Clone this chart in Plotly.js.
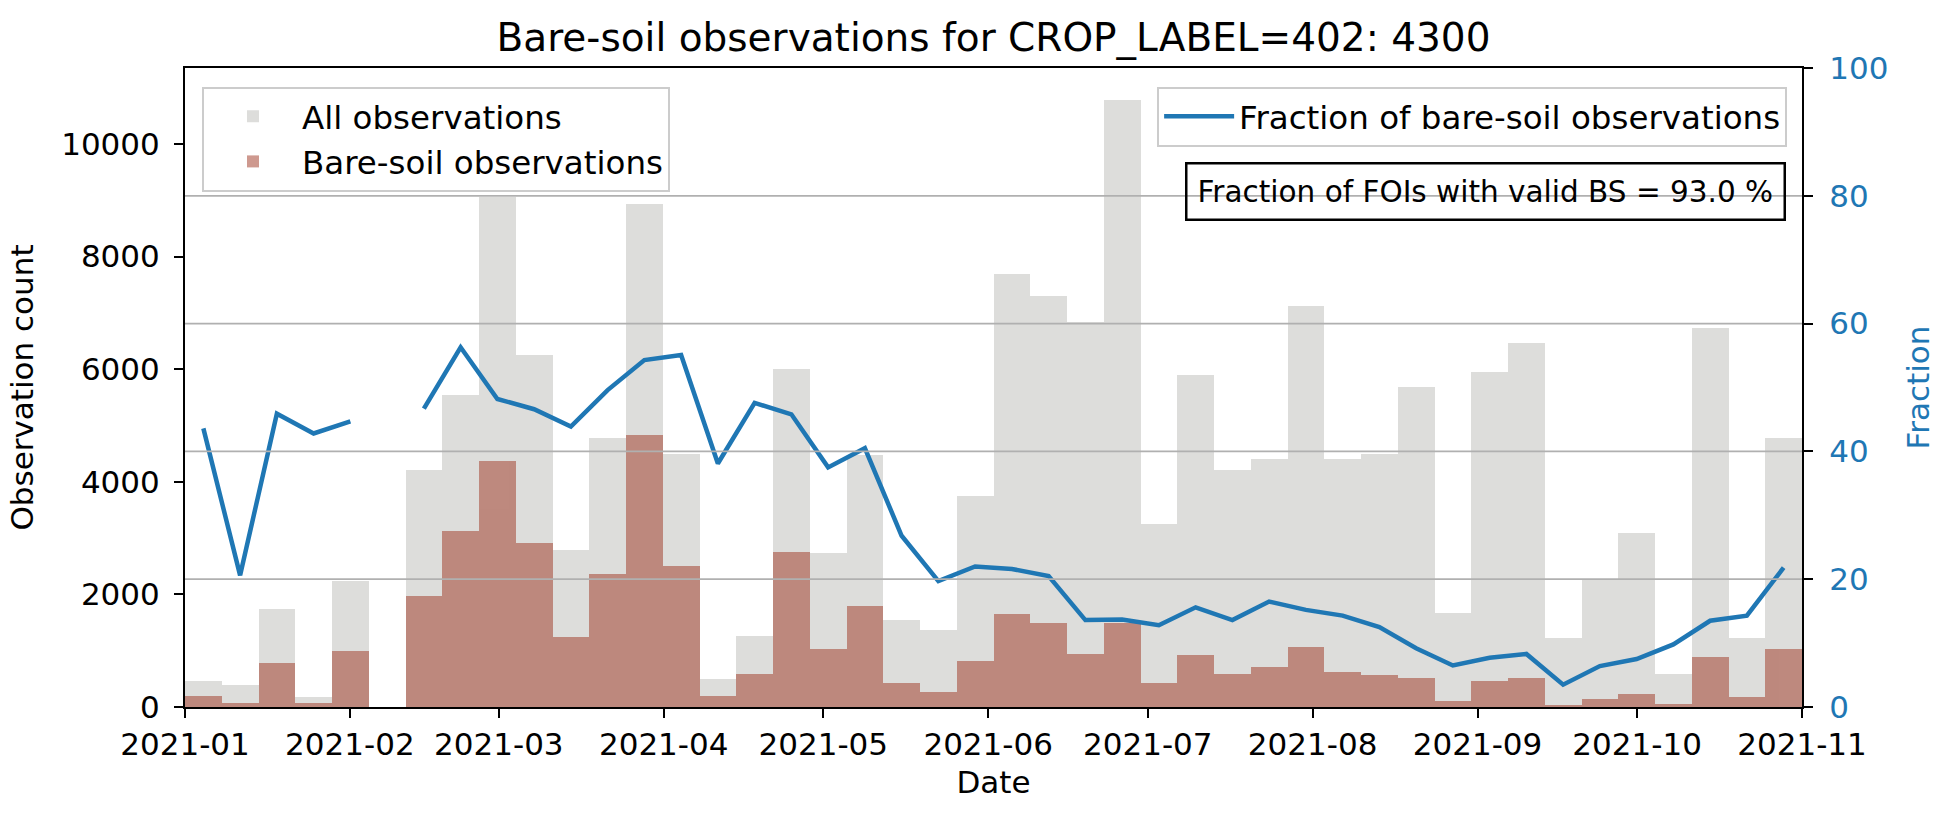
<!DOCTYPE html>
<html>
<head>
<meta charset="utf-8">
<script src="https://cdn.plot.ly/plotly-3.0.1.min.js"></script>
<style>html,body{margin:0;padding:0;background:#fff;}#chart{width:1944px;height:816px;}</style>
</head>
<body>
<div id="chart"></div>
<script>
// Histogram bin range (44 equal bins)
const binStart = '2021-01-01';
const binEnd = '2021-11-01';

// All observations per bin
const allObs = [456, 391, 1737, 170, 2241, 0, 4211, 5550, 9060, 6249,
  2790, 4783, 8934, 4497, 496, 1263, 6001, 2730, 4480, 1549,
  1361, 3745, 7693, 7302, 6843, 10776, 3256, 5889, 4211, 4399,
  7129, 4399, 4497, 5685, 1677, 5948, 6467, 1226, 2279, 3091,
  587, 6738, 1226, 4783];

// Bare-soil observations per bin
const bareSoil = [200, 80, 790, 73, 1000, 0, 1978, 3128, 4362, 2918,
  1241, 2361, 4835, 2497, 196, 587, 2745, 1038, 1790, 421,
  271, 812, 1654, 1489, 940, 1489, 421, 925, 587, 714,
  1068, 624, 564, 511, 113, 459, 511, 43, 146, 233,
  60, 887, 173, 1038];

// Fraction of bare-soil observations (%)
const fraction = [43.6, 20.6, 45.9, 42.8, 44.7, null, 46.7, 56.3, 48.2, 46.6,
  43.9, 49.6, 54.3, 55.1, 38.1, 47.6, 45.8, 37.5, 40.5, 26.8,
  19.7, 22.0, 21.6, 20.5, 13.6, 13.7, 12.8, 15.6, 13.6, 16.5,
  15.2, 14.3, 12.5, 9.2, 6.5, 7.7, 8.3, 3.5, 6.4, 7.5,
  9.8, 13.5, 14.3, 21.8];

const leftTicks = [0, 2000, 4000, 6000, 8000, 10000];
const rightTicks = [0, 20, 40, 60, 80, 100];
const gridTicks = [20, 40, 60, 80];
const monthTicks = ['2021-01-01','2021-02-01','2021-03-01','2021-04-01','2021-05-01','2021-06-01',
  '2021-07-01','2021-08-01','2021-09-01','2021-10-01','2021-11-01'];
const validText = 'Fraction of FOIs with valid BS = 93.0 %';
const titleText = 'Bare-soil observations for CROP_LABEL=402: 4300';

// bin centres derived from bin range
const t0 = Date.parse(binStart + 'T00:00:00Z');
const t1 = Date.parse(binEnd + 'T00:00:00Z');
const nb = allObs.length;
const bw = (t1 - t0) / nb;
const centers = allObs.map((_, i) => new Date(t0 + (i + 0.5) * bw).toISOString().replace('T', ' ').replace('Z', ''));

const FONT = 'DejaVu Sans, Liberation Sans, sans-serif';
const BLUE = '#1f77b4';

const traces = [
  {type: 'bar', x: centers, y: allObs, width: bw, name: 'All observations', legendgroup: 'a',
   marker: {color: 'rgb(221,221,219)', line: {width: 0}}, legend: 'legend', xaxis: 'x', yaxis: 'y'},
  {type: 'bar', x: centers, y: bareSoil, width: bw, name: 'Bare-soil observations', legendgroup: 'b',
   marker: {color: 'rgb(159,53,33)', line: {width: 0}}, opacity: 0.5, legend: 'legend', xaxis: 'x', yaxis: 'y'},
  {type: 'scatter', mode: 'lines', x: centers, y: fraction, name: 'Fraction of bare-soil observations',
   line: {color: BLUE, width: 4.5}, connectgaps: false, legend: 'legend2', xaxis: 'x', yaxis: 'y2'}
];

const shapes = gridTicks.map(v => ({type: 'line', xref: 'paper', x0: 0, x1: 1, yref: 'y2', y0: v, y1: v,
  layer: 'above', line: {color: '#b0b0b0', width: 1.8}}));

const layout = {
  width: 1944, height: 816,
  margin: {l: 185, r: 142, t: 68, b: 109},
  paper_bgcolor: '#fff', plot_bgcolor: '#fff',
  font: {family: FONT, size: 31, color: '#000'},
  barmode: 'overlay', bargap: 0,
  title: {text: titleText, font: {family: FONT, size: 39, color: '#000'},
          xref: 'paper', x: 0.5, xanchor: 'center', yref: 'container', y: 1 - 37/816, yanchor: 'middle'},
  xaxis: {type: 'date', range: [binStart, binEnd], tickvals: monthTicks, tickformat: '%Y-%m',
          showgrid: false, zeroline: false, showline: true, linecolor: '#000', linewidth: 2, mirror: true,
          ticks: 'outside', ticklen: 9, tickwidth: 2, tickcolor: '#000',
          tickfont: {family: FONT, size: 31, color: '#000'},
          title: {text: 'Date', font: {family: FONT, size: 31, color: '#000'}, standoff: 10}},
  yaxis: {range: [0, 11350], tickvals: leftTicks, tickformat: 'd', showgrid: false, zeroline: false,
          showline: true, linecolor: '#000', linewidth: 2,
          ticks: 'outside', ticklen: 9, tickwidth: 2, tickcolor: '#000', ticklabelstandoff: 8,
          tickfont: {family: FONT, size: 31, color: '#000'},
          title: {text: 'Observation count', font: {family: FONT, size: 31, color: '#000'}, standoff: 18}},
  yaxis2: {overlaying: 'y', side: 'right', range: [0, 100], tickvals: rightTicks, showgrid: false,
          zeroline: false, showline: true, linecolor: '#000', linewidth: 2,
          ticks: 'outside', ticklen: 9, tickwidth: 2, tickcolor: '#000', ticklabelstandoff: 10,
          tickfont: {family: FONT, size: 31, color: BLUE},
          title: {text: 'Fraction', font: {family: FONT, size: 31, color: BLUE}, standoff: 20}},
  legend: {x: 0.0105, y: 0.971, xanchor: 'left', yanchor: 'top', bgcolor: 'rgba(255,255,255,0.8)',
           bordercolor: '#cccccc', borderwidth: 2, font: {family: FONT, size: 32.5, color: '#000'},
           itemwidth: 88, tracegroupgap: 6, traceorder: 'normal'},
  legend2: {x: 0.9908, y: 0.971, xanchor: 'right', yanchor: 'top', bgcolor: 'rgba(255,255,255,0.8)',
           bordercolor: '#cccccc', borderwidth: 2, font: {family: FONT, size: 32.5, color: '#000'},
           itemwidth: 70},
  shapes: shapes,
  annotations: [{text: validText, xref: 'paper', yref: 'paper', x: 0.804, y: 0.806,
                 xanchor: 'center', yanchor: 'middle', showarrow: false,
                 font: {family: FONT, size: 29.5, color: '#000'},
                 bordercolor: '#000', borderwidth: 2.5, borderpad: 10, bgcolor: 'rgba(0,0,0,0)'}]
};

Plotly.newPlot('chart', traces, layout, {displayModeBar: false, staticPlot: true});
</script>
</body>
</html>
